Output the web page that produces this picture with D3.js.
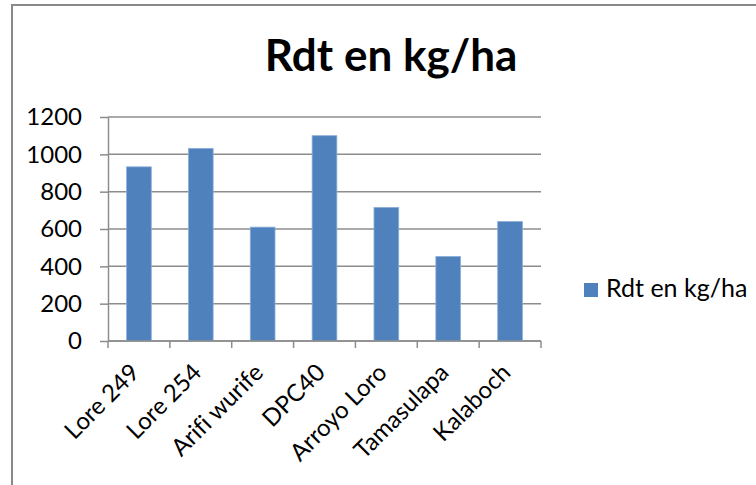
<!DOCTYPE html>
<html>
<head>
<meta charset="utf-8">
<script src="https://cdn.jsdelivr.net/npm/d3@7"></script>
<style>
  html, body { margin: 0; padding: 0; background: #fff; }
  svg { display: block; }
  text { font-family: Lato, "Open Sans", sans-serif; fill: #000; font-variant-ligatures: none; }
</style>
</head>
<body>
<svg id="chart" width="756" height="485"></svg>
<script>
// Yield per variety (kg/ha)
const categories = ["Lore 249", "Lore 254", "Arifi wurife", "DPC40", "Arroyo Loro", "Tamasulapa", "Kalaboch"];
const values = [933, 1032, 610, 1100, 716, 453, 640];
const yTicks = [0, 200, 400, 600, 800, 1000, 1200];
const seriesName = "Rdt en kg/ha";
const chartTitle = "Rdt en kg/ha";

const svg = d3.select("#chart");
const W = 756, H = 485;
const plot = { left: 108, right: 541, top: 117, bottom: 341 };

const gridColor = "#8c8c8c";
const barColor = "#4f81bd";

// outer chart frame (runs off the right and bottom edges)
svg.append("rect")
  .attr("x", 12).attr("y", 5)
  .attr("width", W + 20).attr("height", H + 20)
  .attr("fill", "#fff")
  .attr("stroke", "#898989")
  .attr("stroke-width", 2);

const x = d3.scaleBand()
  .domain(categories)
  .range([plot.left, plot.right])
  .paddingInner(0.6)
  .paddingOuter(0.3);

const y = d3.scaleLinear()
  .domain([0, 1200])
  .range([plot.bottom, plot.top]);

// horizontal gridlines
svg.append("g")
  .selectAll("line")
  .data(yTicks)
  .join("line")
  .attr("x1", plot.left).attr("x2", plot.right)
  .attr("y1", d => y(d)).attr("y2", d => y(d))
  .attr("stroke", gridColor)
  .attr("stroke-width", 1.5);

// y axis
const yAxis = svg.append("g")
  .attr("transform", `translate(${plot.left},0)`)
  .call(d3.axisLeft(y).tickValues(yTicks).tickFormat(d3.format("d"))
    .tickSize(8).tickPadding(18).tickSizeOuter(0));
yAxis.select(".domain").attr("stroke", gridColor).attr("stroke-width", 1.5);
yAxis.selectAll(".tick line").attr("stroke", gridColor).attr("stroke-width", 1.5);
yAxis.selectAll(".tick text")
  .style("font-family", "Lato, 'Open Sans', sans-serif")
  .style("font-size", "24px")
  .attr("fill", "#000");

// bars
svg.append("g")
  .selectAll("rect")
  .data(values)
  .join("rect")
  .attr("x", (d, i) => x(categories[i]))
  .attr("y", d => y(d))
  .attr("width", x.bandwidth())
  .attr("height", d => y(0) - y(d))
  .attr("fill", barColor)
  .attr("stroke", "#8eb0da")
  .attr("stroke-width", 0.8);

// x axis with ticks at category boundaries
const step = x.step();
const boundaries = d3.range(categories.length + 1).map(i => plot.left + i * step);
svg.append("line")
  .attr("x1", plot.left).attr("x2", plot.right)
  .attr("y1", plot.bottom).attr("y2", plot.bottom)
  .attr("stroke", gridColor).attr("stroke-width", 1.5);
svg.append("g")
  .selectAll("line")
  .data(boundaries)
  .join("line")
  .attr("x1", d => d).attr("x2", d => d)
  .attr("y1", plot.bottom).attr("y2", plot.bottom + 7)
  .attr("stroke", gridColor).attr("stroke-width", 1.5);

// rotated category labels
svg.append("g")
  .selectAll("text")
  .data(categories)
  .join("text")
  .attr("transform", d => `translate(${x(d) + x.bandwidth() / 2 + 2},${plot.bottom + 33}) rotate(-45)`)
  .attr("text-anchor", "end")
  .style("font-size", "24px")
  .text(d => d);

// title
svg.append("text")
  .attr("x", 391).attr("y", 71)
  .attr("text-anchor", "middle")
  .style("font-size", "44px")
  .style("font-weight", "bold")
  .text(chartTitle);

// legend
svg.append("rect")
  .attr("x", 584).attr("y", 283)
  .attr("width", 14).attr("height", 14)
  .attr("fill", barColor);
svg.append("text")
  .attr("x", 606).attr("y", 297)
  .style("font-size", "25px")
  .text(seriesName);
</script>
</body>
</html>
